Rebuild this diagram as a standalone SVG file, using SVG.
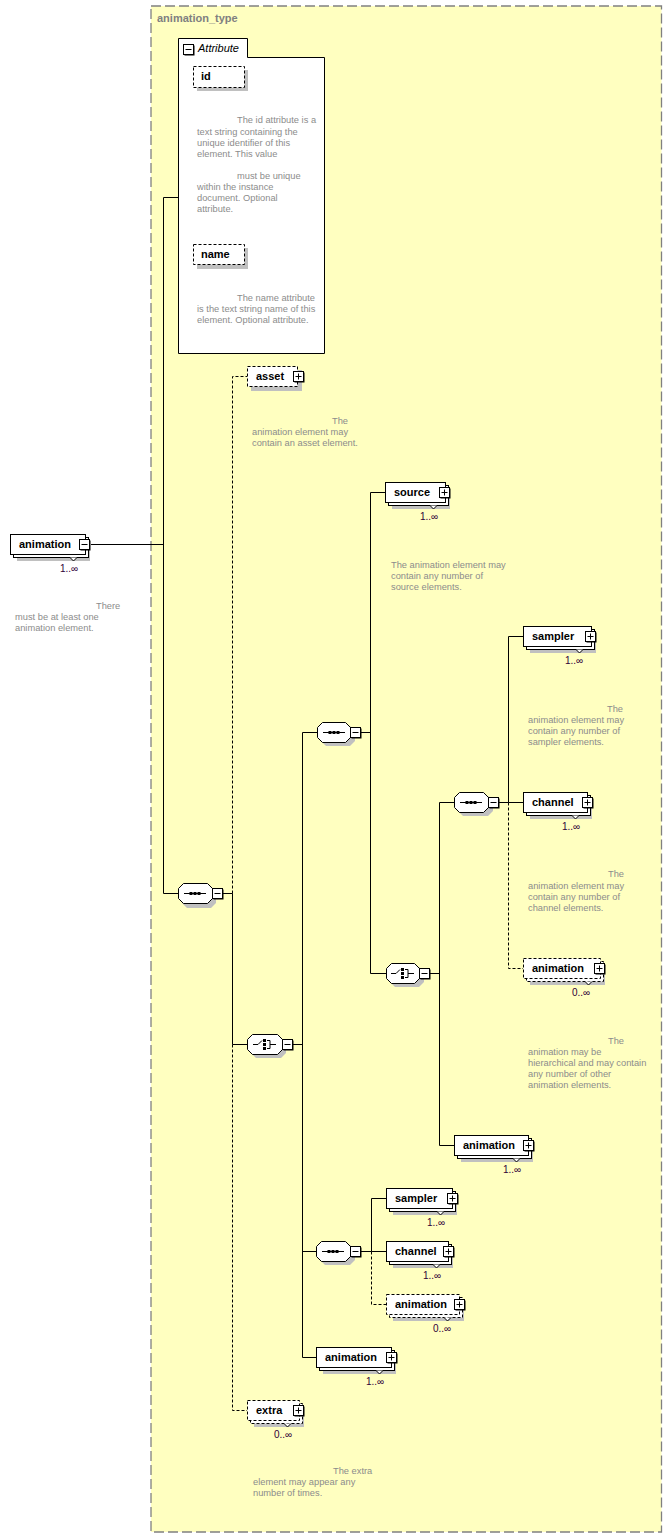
<svg xmlns="http://www.w3.org/2000/svg" xmlns:xlink="http://www.w3.org/1999/xlink" width="672" height="1538" viewBox="0 0 672 1538">
<style>
.bg{fill:#ffffc0;stroke:#808080;stroke-width:1.3;stroke-dasharray:10,4}
.title{font-family:"Liberation Sans",Arial,sans-serif;font-weight:bold;font-size:11px;fill:#808080}
.box{fill:#fff;stroke:#000;stroke-width:1}
.obox{fill:#fff;stroke:#000;stroke-width:1;stroke-dasharray:3,2}
.shd{fill:#c0c0c0}
.en{font-family:"Liberation Sans",Arial,sans-serif;font-weight:bold;font-size:11px;fill:#000}
.card{font-family:"Liberation Sans",Arial,sans-serif;font-size:10px;fill:#300038}
.desc{font-family:"Liberation Sans",Arial,sans-serif;font-size:9.3px;fill:#8c8c8c}
.ln{fill:none;stroke:#000;stroke-width:1}
.dln{fill:none;stroke:#000;stroke-width:1;stroke-dasharray:3,2}
.notch{fill:#fff;stroke:#000;stroke-width:1}
.ital{font-family:"Liberation Sans",Arial,sans-serif;font-style:italic;font-size:11px;fill:#000}
</style>
<defs>
<g id="plus"><rect x="1.5" y="1.5" width="10" height="10" fill="#000"/><rect x="0.5" y="0.5" width="10" height="10" fill="#fff" stroke="#000"/><path d="M2.5,5.5 H8.5 M5.5,2.5 V8.5" stroke="#000" fill="none"/></g>
<g id="minus"><rect x="1.5" y="1.5" width="10" height="10" fill="#000"/><rect x="0.5" y="0.5" width="10" height="10" fill="#fff" stroke="#000"/><path d="M2.5,5.5 H8.5" stroke="#000" fill="none"/></g>
<g id="seqIcon"><path d="M-11,0.5 H11" stroke="#000" fill="none"/><rect x="-5.5" y="-1" width="3" height="3" fill="#000"/><rect x="-1.5" y="-1" width="3" height="3" fill="#000"/><rect x="2.5" y="-1" width="3" height="3" fill="#000"/></g>
<g id="choiceIcon"><path d="M-12,0.5 H-7 L-3,-3.5 M2,-3.5 H5 V4.5 H2 M5,0.5 H11" stroke="#000" fill="none"/><rect x="-2" y="-5" width="3" height="3" fill="#000"/><rect x="-2" y="-1" width="3" height="3" fill="#000"/><rect x="-2" y="3" width="3" height="3" fill="#000"/></g>
</defs>

<rect x="0" y="0" width="672" height="1538" fill="#fff"/>
<g id="animation_type">
<rect class="bg" x="151" y="6" width="510.5" height="1526"/>
<text class="title" x="157" y="22">animation_type</text>
</g>

<g id="connectors">
<path class="ln" d="M91,544.5 H163.5 M163.5,197.5 V893.5 M163.5,197.5 H178 M163.5,893.5 H178"/>
<path class="ln" d="M223,893.5 H232.5 V1044.5 H247"/>
<path class="dln" d="M232.5,893.5 V376.5 H247 M232.5,1044.5 V1410.5 H247"/>
<path class="ln" d="M293,1044.5 H302.5 M302.5,732.5 V1357.5 M302.5,732.5 H317 M302.5,1251.5 H316 M302.5,1357.5 H316"/>
<path class="ln" d="M361,732.5 H370.5 M370.5,492.5 V973.5 M370.5,492.5 H385 M370.5,973.5 H386"/>
<path class="ln" d="M430,973.5 H439.5 M439.5,802.5 V1145.5 M439.5,802.5 H454 M439.5,1145.5 H454"/>
<path class="ln" d="M499,802.5 H508.5 M508.5,636.5 V802.5 M508.5,636.5 H523 M508.5,802.5 H523"/>
<path class="dln" d="M508.5,802.5 V968.5 H523"/>
<path class="ln" d="M361,1251.5 H371.5 M371.5,1198.5 V1251.5 M371.5,1198.5 H386 M371.5,1251.5 H386"/>
<path class="dln" d="M371.5,1251.5 V1304.5 H386"/>
</g>

<g id="attributes">
<polygon class="box" points="178.5,38.5 247.5,38.5 247.5,57.5 324.5,57.5 324.5,353.5 178.5,353.5"/>
<use xlink:href="#minus" x="183" y="44"/>
<text class="ital" x="198" y="52">Attribute</text>
</g>
<g id="attr-id">
<rect class="shd" x="197" y="70" width="51" height="21"/>
<rect class="obox" x="193.5" y="66.5" width="51" height="21"/>
<text class="en" x="201" y="80">id</text>
<text class="desc" x="237" y="123">The id attribute is a</text>
<text class="desc" x="197" y="135">text string containing the</text>
<text class="desc" x="197" y="146">unique identifier of this</text>
<text class="desc" x="197" y="157">element. This value</text>
<text class="desc" x="237" y="179">must be unique</text>
<text class="desc" x="197" y="190">within the instance</text>
<text class="desc" x="197" y="201">document. Optional</text>
<text class="desc" x="197" y="212">attribute.</text>
</g>
<g id="attr-name">
<rect class="shd" x="197" y="248" width="51" height="21"/>
<rect class="obox" x="193.5" y="244.5" width="51" height="20"/>
<text class="en" x="201" y="258">name</text>
<text class="desc" x="237" y="301">The name attribute</text>
<text class="desc" x="197" y="312">is the text string name of this</text>
<text class="desc" x="197" y="323">element. Optional attribute.</text>
</g>

<g id="el-animation-root">
<rect class="shd" x="17" y="541" width="73" height="20"/>
<rect class="box" x="13.5" y="537.5" width="75" height="20"/>
<rect class="box" x="10.5" y="534.5" width="75" height="20"/>
<polyline class="notch" points="70,557.5 73.5,561 77,557.5"/>
<text class="en" x="19" y="548">animation</text>
<use xlink:href="#minus" x="79" y="539"/>
<text class="card" x="60" y="572">1..∞</text>
<text class="desc" x="96" y="609">There</text>
<text class="desc" x="15" y="620">must be at least one</text>
<text class="desc" x="15" y="631">animation element.</text>
</g>

<g id="seq-main">
<polygon class="shd" points="187,887 211,887 216,892 216,903 211,908 187,908 182,903 182,892"/>
<polygon class="box" points="183.5,883.5 207.5,883.5 212.5,888.5 212.5,898.5 207.5,903.5 183.5,903.5 178.5,898.5 178.5,888.5"/>
<use xlink:href="#seqIcon" x="195" y="893"/>
<use xlink:href="#minus" x="212" y="888"/>
</g>

<g id="el-asset">
<rect class="shd" x="251" y="370" width="51" height="21"/>
<rect class="obox" x="247.5" y="366.5" width="50" height="20"/>
<text class="en" x="256" y="380">asset</text>
<use xlink:href="#plus" x="293" y="371"/>
<text class="desc" x="332" y="424">The</text>
<text class="desc" x="252" y="435">animation element may</text>
<text class="desc" x="252" y="446">contain an asset element.</text>
</g>

<g id="choice-main">
<polygon class="shd" points="256,1038 281,1038 286,1043 286,1053 281,1058 256,1058 251,1053 251,1043"/>
<polygon class="box" points="252.5,1034.5 277.5,1034.5 282.5,1039.5 282.5,1049.5 277.5,1054.5 252.5,1054.5 247.5,1049.5 247.5,1039.5"/>
<use xlink:href="#choiceIcon" x="265" y="1044"/>
<use xlink:href="#minus" x="282" y="1039"/>
</g>

<g id="seq-2">
<polygon class="shd" points="326,726 350,726 355,731 355,741 350,746 326,746 321,741 321,731"/>
<polygon class="box" points="322.5,722.5 345.5,722.5 350.5,727.5 350.5,737.5 345.5,742.5 322.5,742.5 317.5,737.5 317.5,727.5"/>
<use xlink:href="#seqIcon" x="334" y="732"/>
<use xlink:href="#minus" x="350" y="727"/>
</g>

<g id="el-source">
<rect class="shd" x="392" y="489" width="58" height="20"/>
<rect class="box" x="388.5" y="485.5" width="60" height="20"/>
<rect class="box" x="385.5" y="482.5" width="60" height="20"/>
<polyline class="notch" points="430,505.5 433.5,509 437,505.5"/>
<text class="en" x="394" y="496">source</text>
<use xlink:href="#plus" x="439" y="487"/>
<text class="card" x="420" y="520">1..∞</text>
<text class="desc" x="391" y="568">The animation element may</text>
<text class="desc" x="391" y="579">contain any number of</text>
<text class="desc" x="391" y="590">source elements.</text>
</g>

<g id="choice-2">
<polygon class="shd" points="395,967 419,967 424,972 424,982 419,987 395,987 390,982 390,972"/>
<polygon class="box" points="391.5,963.5 414.5,963.5 419.5,968.5 419.5,978.5 414.5,983.5 391.5,983.5 386.5,978.5 386.5,968.5"/>
<use xlink:href="#choiceIcon" x="403" y="973"/>
<use xlink:href="#minus" x="419" y="968"/>
</g>

<g id="seq-4">
<polygon class="shd" points="463,796 488,796 493,801 493,811 488,816 463,816 458,811 458,801"/>
<polygon class="box" points="459.5,792.5 483.5,792.5 488.5,797.5 488.5,807.5 483.5,812.5 459.5,812.5 454.5,807.5 454.5,797.5"/>
<use xlink:href="#seqIcon" x="471" y="802"/>
<use xlink:href="#minus" x="488" y="797"/>
</g>

<g id="el-sampler-1">
<rect class="shd" x="530" y="633" width="66" height="20"/>
<rect class="box" x="526.5" y="629.5" width="68" height="20"/>
<rect class="box" x="523.5" y="626.5" width="68" height="20"/>
<polyline class="notch" points="576,649.5 579.5,653 583,649.5"/>
<text class="en" x="532" y="640">sampler</text>
<use xlink:href="#plus" x="585" y="631"/>
<text class="card" x="565" y="664">1..∞</text>
<text class="desc" x="607" y="712">The</text>
<text class="desc" x="528" y="723">animation element may</text>
<text class="desc" x="528" y="734">contain any number of</text>
<text class="desc" x="528" y="745">sampler elements.</text>
</g>

<g id="el-channel-1">
<rect class="shd" x="530" y="799" width="62" height="20"/>
<rect class="box" x="526.5" y="795.5" width="64" height="20"/>
<rect class="box" x="523.5" y="792.5" width="64" height="20"/>
<polyline class="notch" points="572,815.5 575.5,819 579,815.5"/>
<text class="en" x="532" y="806">channel</text>
<use xlink:href="#plus" x="582" y="797"/>
<text class="card" x="562" y="830">1..∞</text>
<text class="desc" x="608" y="877">The</text>
<text class="desc" x="528" y="889">animation element may</text>
<text class="desc" x="528" y="900">contain any number of</text>
<text class="desc" x="528" y="911">channel elements.</text>
</g>

<g id="el-animation-opt-1">
<rect class="shd" x="530" y="965" width="75" height="20"/>
<rect class="obox" x="526.5" y="961.5" width="77" height="20"/>
<rect class="obox" x="523.5" y="958.5" width="77" height="20"/>
<polyline class="notch" points="585,981.5 588.5,985 592,981.5"/>
<text class="en" x="532" y="972">animation</text>
<use xlink:href="#plus" x="594" y="963"/>
<text class="card" x="572" y="996">0..∞</text>
<text class="desc" x="608" y="1044">The</text>
<text class="desc" x="528" y="1055">animation may be</text>
<text class="desc" x="528" y="1066">hierarchical and may contain</text>
<text class="desc" x="528" y="1077">any number of other</text>
<text class="desc" x="528" y="1088">animation elements.</text>
</g>

<g id="el-animation-2">
<rect class="shd" x="461" y="1142" width="72" height="20"/>
<rect class="box" x="457.5" y="1138.5" width="74" height="20"/>
<rect class="box" x="454.5" y="1135.5" width="74" height="20"/>
<polyline class="notch" points="513,1158.5 516.5,1162 520,1158.5"/>
<text class="en" x="463" y="1149">animation</text>
<use xlink:href="#plus" x="523" y="1140"/>
<text class="card" x="503" y="1173">1..∞</text>
</g>

<g id="seq-3">
<polygon class="shd" points="325,1245 350,1245 355,1250 355,1260 350,1265 325,1265 320,1260 320,1250"/>
<polygon class="box" points="321.5,1241.5 345.5,1241.5 350.5,1246.5 350.5,1256.5 345.5,1261.5 321.5,1261.5 316.5,1256.5 316.5,1246.5"/>
<use xlink:href="#seqIcon" x="333" y="1251"/>
<use xlink:href="#minus" x="350" y="1246"/>
</g>

<g id="el-sampler-2">
<rect class="shd" x="393" y="1195" width="64" height="20"/>
<rect class="box" x="389.5" y="1191.5" width="66" height="20"/>
<rect class="box" x="386.5" y="1188.5" width="66" height="20"/>
<polyline class="notch" points="437,1211.5 440.5,1215 444,1211.5"/>
<text class="en" x="395" y="1202">sampler</text>
<use xlink:href="#plus" x="447" y="1193"/>
<text class="card" x="427" y="1226">1..∞</text>
</g>

<g id="el-channel-2">
<rect class="shd" x="393" y="1248" width="60" height="20"/>
<rect class="box" x="389.5" y="1244.5" width="62" height="20"/>
<rect class="box" x="386.5" y="1241.5" width="62" height="20"/>
<polyline class="notch" points="433,1264.5 436.5,1268 440,1264.5"/>
<text class="en" x="395" y="1255">channel</text>
<use xlink:href="#plus" x="443" y="1246"/>
<text class="card" x="423" y="1279">1..∞</text>
</g>

<g id="el-animation-opt-2">
<rect class="shd" x="393" y="1301" width="71" height="20"/>
<rect class="obox" x="389.5" y="1297.5" width="73" height="20"/>
<rect class="obox" x="386.5" y="1294.5" width="73" height="20"/>
<polyline class="notch" points="444,1317.5 447.5,1321 451,1317.5"/>
<text class="en" x="395" y="1308">animation</text>
<use xlink:href="#plus" x="454" y="1299"/>
<text class="card" x="433" y="1332">0..∞</text>
</g>

<g id="el-animation-3">
<rect class="shd" x="323" y="1354" width="73" height="20"/>
<rect class="box" x="319.5" y="1350.5" width="75" height="20"/>
<rect class="box" x="316.5" y="1347.5" width="75" height="20"/>
<polyline class="notch" points="376,1370.5 379.5,1374 383,1370.5"/>
<text class="en" x="325" y="1361">animation</text>
<use xlink:href="#plus" x="386" y="1352"/>
<text class="card" x="366" y="1385">1..∞</text>
</g>

<g id="el-extra">
<rect class="shd" x="254" y="1407" width="50" height="20"/>
<rect class="obox" x="250.5" y="1403.5" width="52" height="20"/>
<rect class="obox" x="247.5" y="1400.5" width="52" height="20"/>
<polyline class="notch" points="284,1423.5 287.5,1427 291,1423.5"/>
<text class="en" x="256" y="1414">extra</text>
<use xlink:href="#plus" x="293" y="1405"/>
<text class="card" x="274" y="1438">0..∞</text>
<text class="desc" x="333" y="1474">The extra</text>
<text class="desc" x="253" y="1485">element may appear any</text>
<text class="desc" x="253" y="1496">number of times.</text>
</g>
</svg>
